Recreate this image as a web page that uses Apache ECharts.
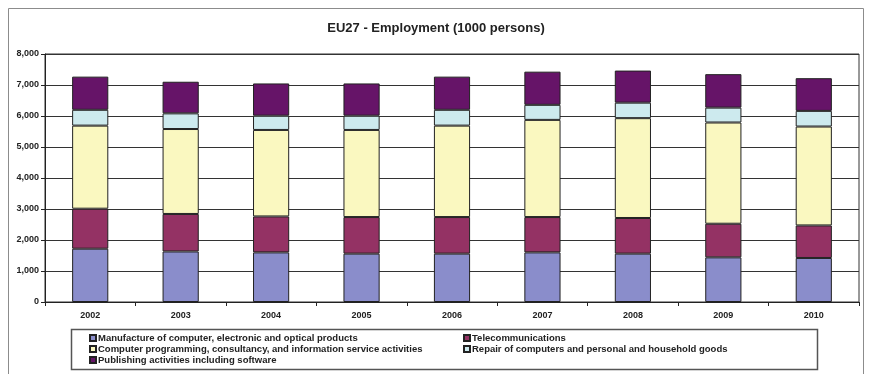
<!DOCTYPE html>
<html>
<head>
<meta charset="utf-8">
<script src="https://cdn.jsdelivr.net/npm/echarts@6/dist/echarts.min.js"></script>
<style>
  html, body { margin: 0; padding: 0; background: #ffffff; }
  #chart { width: 872px; height: 374px; }
</style>
</head>
<body>
<div id="chart"></div>
<script>
// Years on the category axis
const years = ['2002', '2003', '2004', '2005', '2006', '2007', '2008', '2009', '2010'];

// Employment by activity, thousands of persons (stacked bottom to top)
const manufacture = [1720, 1630, 1600, 1560, 1560, 1600, 1560, 1440, 1420];
const telecom     = [1290, 1210, 1160, 1180, 1180, 1140, 1150, 1085, 1050];
const programming = [2680, 2740, 2790, 2810, 2950, 3135, 3220, 3265, 3190];
const repair      = [510, 505, 460, 460, 510, 485, 500, 480, 505];
const publishing  = [1070, 1020, 1040, 1040, 1070, 1070, 1035, 1080, 1055];

const names = [
  'Manufacture of computer, electronic and optical products',
  'Telecommunications',
  'Computer programming, consultancy, and information service activities',
  'Repair of computers and personal and household goods',
  'Publishing activities including software'
];
const colors = ['#8a8dcb', '#943264', '#faf8c0', '#cdeaee', '#661468'];
const values = [manufacture, telecom, programming, repair, publishing];

const chart = echarts.init(document.getElementById('chart'), null, { renderer: 'canvas' });

const font = 'Arial, "Liberation Sans", sans-serif';
const textColor = '#222222';

const legendText = { fontSize: 9.5, lineHeight: 10, fontWeight: 'bold', color: textColor, fontFamily: font };

chart.setOption({
  backgroundColor: '#ffffff',
  animation: false,
  title: {
    text: 'EU27 - Employment (1000 persons)',
    left: 'center',
    top: 17,
    textStyle: { fontSize: 13, fontWeight: 'bold', color: textColor, fontFamily: font }
  },
  graphic: [
    { type: 'rect', shape: { x: 8.5, y: 8.5, width: 855, height: 380 }, style: { fill: 'none', stroke: '#8c8c8c', lineWidth: 1 }, z: -1 },
    { type: 'rect', shape: { x: 71.5, y: 329.5, width: 746, height: 40 }, style: { fill: 'none', stroke: '#555555', lineWidth: 1.5 }, z: -1 }
  ],
  legend: [
    {
      data: [names[0], names[2], names[4]],
      orient: 'vertical',
      left: 89, top: 333,
      padding: 0,
      itemGap: 1,
      itemWidth: 6, itemHeight: 6,
      icon: 'rect',
      textStyle: Object.assign({ padding: [0, 0, 0, -3] }, legendText)
    },
    {
      data: [names[1], names[3]],
      orient: 'vertical',
      left: 463, top: 333,
      padding: 0,
      itemGap: 1,
      itemWidth: 6, itemHeight: 6,
      icon: 'rect',
      textStyle: Object.assign({ padding: [0, 0, 0, -3] }, legendText)
    }
  ],
  grid: {
    left: 45, right: 13, top: 54, bottom: 72,
    show: true, borderColor: '#333333', borderWidth: 1,
    containLabel: false
  },
  xAxis: {
    type: 'category',
    data: years,
    axisLine: { lineStyle: { color: '#222222', width: 1 } },
    axisTick: { show: true, length: 4, alignWithLabel: false, lineStyle: { color: '#222222' } },
    axisLabel: { fontSize: 9, fontWeight: 'bold', color: textColor, fontFamily: font, margin: 9 }
  },
  yAxis: {
    type: 'value',
    min: 0, max: 8000, interval: 1000,
    axisLine: { show: true, lineStyle: { color: '#222222', width: 1 } },
    axisTick: { show: true, length: 4, lineStyle: { color: '#222222' } },
    axisLabel: {
      fontSize: 9, fontWeight: 'bold', color: textColor, fontFamily: font, margin: 6,
      formatter: v => v.toLocaleString('en-US')
    },
    splitLine: { show: true, lineStyle: { color: '#333333', width: 1 } }
  },
  series: values.map((d, i) => ({
    name: names[i],
    type: 'bar',
    stack: 'total',
    data: d,
    barWidth: '40%',
    itemStyle: { color: colors[i], borderColor: '#222222', borderWidth: 1 }
  }))
});
</script>
</body>
</html>
